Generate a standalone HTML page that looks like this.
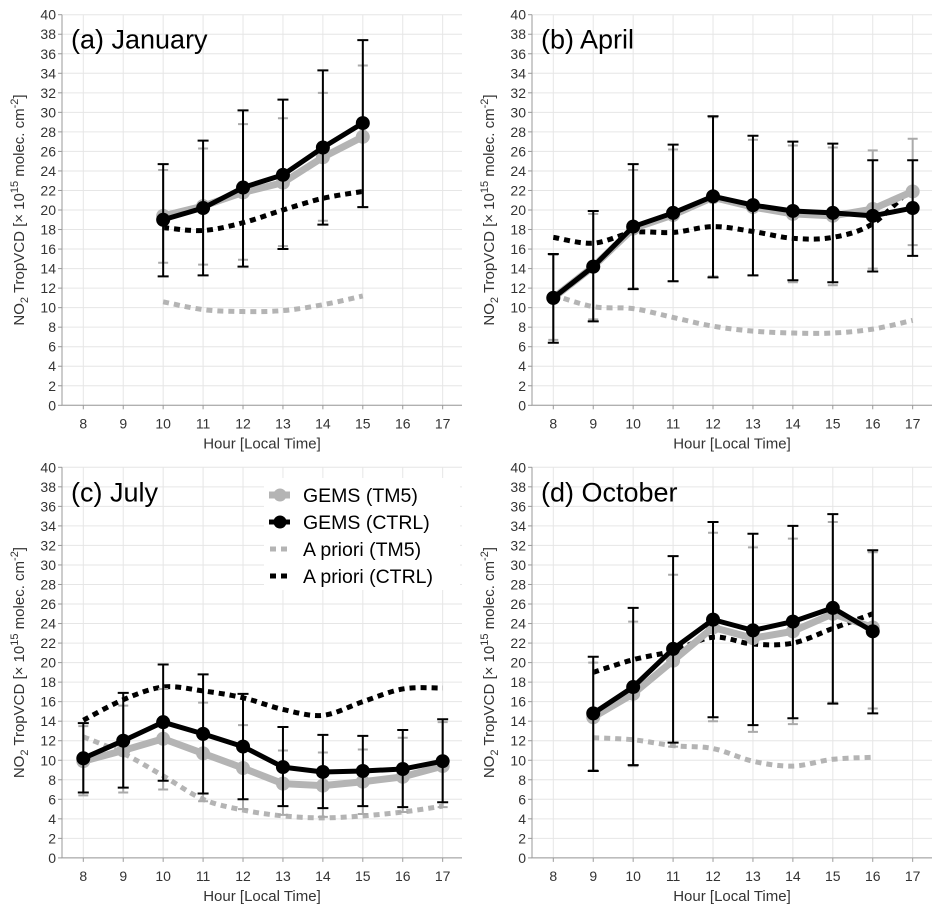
<!DOCTYPE html>
<html><head><meta charset="utf-8"><style>
html,body{margin:0;padding:0;background:#fff}
svg{display:block;font-family:"Liberation Sans",Arial,sans-serif}
</style></head><body>
<svg id="fig" width="942" height="914" viewBox="0 0 942 914" xmlns="http://www.w3.org/2000/svg"></svg>
<script>
const hours = [8,9,10,11,12,13,14,15,16,17];
const yTicks = [0,2,4,6,8,10,12,14,16,18,20,22,24,26,28,30,32,34,36,38,40];
const panelTitles = ["(a) January","(b) April","(c) July","(d) October"];
const panelNames = ["january","april","july","october"];
// January
const janHours = [10,11,12,13,14,15];
const janCtrl = [19.0,20.2,22.3,23.6,26.4,28.9];
const janCtrlLo = [13.2,13.3,14.2,16.0,18.5,20.3];
const janCtrlHi = [24.7,27.1,30.2,31.3,34.3,37.4];
const janTm5 = [19.4,20.4,21.8,22.8,25.4,27.5];
const janTm5Lo = [14.6,14.4,14.9,16.3,18.9,20.3];
const janTm5Hi = [24.1,26.3,28.8,29.4,32.0,34.8];
const janApCtrl = [18.2,17.9,18.7,20.0,21.2,21.9];
const janApTm5 = [10.6,9.8,9.6,9.7,10.3,11.2];
// April
const aprHours = [8,9,10,11,12,13,14,15,16,17];
const aprCtrl = [11.0,14.2,18.3,19.7,21.4,20.5,19.9,19.7,19.4,20.2];
const aprCtrlLo = [6.4,8.6,11.9,12.7,13.1,13.3,12.8,12.6,13.7,15.3];
const aprCtrlHi = [15.5,19.9,24.7,26.7,29.6,27.6,27.0,26.8,25.1,25.1];
const aprTm5 = [11.0,14.2,18.1,19.5,21.3,20.3,19.6,19.4,20.1,21.9];
const aprTm5Lo = [6.7,8.8,12.0,12.7,13.2,13.3,12.6,12.3,14.0,16.4];
const aprTm5Hi = [15.4,19.6,24.1,26.2,29.5,27.2,26.6,26.4,26.1,27.3];
const aprApCtrl = [17.2,16.6,17.7,17.7,18.3,17.8,17.1,17.2,18.6,22.4];
const aprApTm5 = [11.3,10.1,9.9,9.0,8.1,7.6,7.4,7.4,7.8,8.7];
// July
const julHours = [8,9,10,11,12,13,14,15,16,17];
const julCtrl = [10.2,12.0,13.9,12.7,11.4,9.3,8.8,8.9,9.1,9.9];
const julCtrlLo = [6.7,7.2,7.9,6.6,6.0,5.3,5.1,5.3,5.2,5.7];
const julCtrlHi = [13.8,16.9,19.8,18.8,16.8,13.4,12.6,12.5,13.1,14.2];
const julTm5 = [9.9,11.0,12.2,10.7,9.2,7.6,7.4,7.8,8.3,9.4];
const julTm5Lo = [6.4,6.7,7.0,5.8,5.0,4.4,4.2,4.5,4.7,5.2];
const julTm5Hi = [13.5,15.6,17.3,15.9,13.6,11.0,10.8,11.1,12.3,13.9];
const julApCtrl = [14.1,16.2,17.5,17.1,16.4,15.2,14.6,16.0,17.3,17.4];
const julApTm5 = [12.4,10.7,8.4,6.0,4.9,4.3,4.1,4.3,4.7,5.3];
// October
const octHours = [9,10,11,12,13,14,15,16];
const octCtrl = [14.8,17.5,21.4,24.4,23.3,24.2,25.6,23.2];
const octCtrlLo = [8.9,9.5,11.8,14.4,13.6,14.3,15.8,14.8];
const octCtrlHi = [20.6,25.6,30.9,34.4,33.2,34.0,35.2,31.5];
const octTm5 = [14.4,16.8,20.2,23.6,22.5,23.2,25.0,23.6];
const octTm5Lo = [9.0,9.4,11.4,14.0,12.9,13.7,15.9,15.3];
const octTm5Hi = [20.0,24.2,29.0,33.3,31.8,32.7,34.4,31.3];
const octApCtrl = [19.0,20.3,21.2,22.6,21.9,22.0,23.5,25.0];
const octApTm5 = [12.3,12.1,11.5,11.2,9.9,9.4,10.1,10.3];

const panels = [
 {x0:62,y0:14.7,d:[janHours,janCtrl,janCtrlLo,janCtrlHi,janTm5,janTm5Lo,janTm5Hi,janApCtrl,janApTm5]},
 {x0:532,y0:14.7,d:[aprHours,aprCtrl,aprCtrlLo,aprCtrlHi,aprTm5,aprTm5Lo,aprTm5Hi,aprApCtrl,aprApTm5]},
 {x0:62,y0:467.3,d:[julHours,julCtrl,julCtrlLo,julCtrlHi,julTm5,julTm5Lo,julTm5Hi,julApCtrl,julApTm5]},
 {x0:532,y0:467.3,d:[octHours,octCtrl,octCtrlLo,octCtrlHi,octTm5,octTm5Lo,octTm5Hi,octApCtrl,octApTm5]}
];
const NS="http://www.w3.org/2000/svg";
const fig=document.getElementById('fig');
function mk(tag,attrs,parent,text){const e=document.createElementNS(NS,tag);for(const k in attrs)e.setAttribute(k,attrs[k]);if(text!==undefined)e.textContent=text;(parent||fig).appendChild(e);return e;}
function smooth(pts){let d=`M${pts[0][0]},${pts[0][1]}`;for(let i=0;i<pts.length-1;i++){const p0=pts[Math.max(0,i-1)],p1=pts[i],p2=pts[i+1],p3=pts[Math.min(pts.length-1,i+2)];const c1=[p1[0]+(p2[0]-p0[0])/6,p1[1]+(p2[1]-p0[1])/6],c2=[p2[0]-(p3[0]-p1[0])/6,p2[1]-(p3[1]-p1[1])/6];d+=` C${c1[0]},${c1[1]} ${c2[0]},${c2[1]} ${p2[0]},${p2[1]}`;}return d;}
const W=400,H=390.6;
panels.forEach((p,pi)=>{
 const g=mk('g',{});
 
 
 const xS=h=>p.x0+21.3+(h-8)*39.93;
 const yS=v=>p.y0+H-v/40*H;
 yTicks.forEach(t=>{const l=mk('line',{x1:p.x0,x2:p.x0+W,y1:yS(t),y2:yS(t),stroke:'#e6e6e6','stroke-width':1},g);});
 hours.forEach(h=>{const l=mk('line',{x1:xS(h),x2:xS(h),y1:p.y0,y2:p.y0+H,stroke:'#e6e6e6','stroke-width':1},g);});
 const ax=mk('path',{d:`M${p.x0},${p.y0} V${p.y0+H} H${p.x0+W}`,fill:'none',stroke:'#999','stroke-width':1},g);
 
 yTicks.forEach(t=>{mk('line',{x1:p.x0-4,x2:p.x0,y1:yS(t),y2:yS(t),stroke:'#999'},g);
  const tx=mk('text',{x:p.x0-6,y:yS(t)+5,'text-anchor':'end','font-size':14,fill:'#333'},g,t);
  });
 hours.forEach(h=>{mk('line',{x1:xS(h),x2:xS(h),y1:p.y0+H,y2:p.y0+H+4,stroke:'#999'},g);
  const tx=mk('text',{x:xS(h),y:p.y0+H+23,'text-anchor':'middle','font-size':14,fill:'#333'},g,h);
  });
 const xt=mk('text',{x:p.x0+W/2,y:p.y0+H+43,'text-anchor':'middle','font-size':15,fill:'#333'},g,'Hour [Local Time]');
 
 const yt=mk('text',{transform:`translate(${p.x0-38},${p.y0+H/2}) rotate(-90)`,'text-anchor':'middle','font-size':15,fill:'#333'},g);
 
 yt.innerHTML='NO<tspan font-size="11" dy="4">2</tspan><tspan dy="-4"> TropVCD [× 10</tspan><tspan font-size="11" dy="-6">15</tspan><tspan dy="6"> molec. cm</tspan><tspan font-size="11" dy="-6">-2</tspan><tspan dy="6">]</tspan>';
 const ti=mk('text',{x:p.x0+9,y:p.y0+34,'font-size':27,fill:'#000'},g,panelTitles[pi]);
 
 const [hs,c,cl,ch,t,tl,th,ac,at]=p.d;
 const atp=mk('path',{d:smooth(hs.map((h,i)=>[xS(h),yS(at[i])])),fill:'none',stroke:'#b4b4b4','stroke-width':5,'stroke-dasharray':'6 5'},g);
 
 const acp=mk('path',{d:smooth(hs.map((h,i)=>[xS(h),yS(ac[i])])),fill:'none',stroke:'#000','stroke-width':5,'stroke-dasharray':'6 5'},g);
 
 hs.forEach((h,i)=>{const e=mk('path',{d:`M${xS(h)-5},${yS(tl[i])}H${xS(h)+5}M${xS(h)},${yS(tl[i])}V${yS(th[i])}M${xS(h)-5},${yS(th[i])}H${xS(h)+5}`,stroke:'#aaa','stroke-width':2,fill:'none'},g);
  });
 const tp=mk('polyline',{points:hs.map((h,i)=>xS(h)+','+yS(t[i])).join(' '),fill:'none',stroke:'#b4b4b4','stroke-width':7,'stroke-linejoin':'round'},g);
 
 hs.forEach((h,i)=>{const m=mk('circle',{cx:xS(h),cy:yS(t[i]),r:7,fill:'#b4b4b4'},g);});
 hs.forEach((h,i)=>{const e=mk('path',{d:`M${xS(h)-5.5},${yS(cl[i])}H${xS(h)+5.5}M${xS(h)},${yS(cl[i])}V${yS(ch[i])}M${xS(h)-5.5},${yS(ch[i])}H${xS(h)+5.5}`,stroke:'#000','stroke-width':2,fill:'none'},g);
  });
 const cp=mk('polyline',{points:hs.map((h,i)=>xS(h)+','+yS(c[i])).join(' '),fill:'none',stroke:'#000','stroke-width':5,'stroke-linejoin':'round'},g);
 
 hs.forEach((h,i)=>{const m=mk('circle',{cx:xS(h),cy:yS(c[i]),r:7,fill:'#000'},g);});
});
const lg=mk('g',{});


mk('rect',{x:264,y:478,width:196,height:112,fill:'#fff'},lg);
const legendLabels=['GEMS (TM5)','GEMS (CTRL)','A priori (TM5)','A priori (CTRL)'];
const legendColors=['#b4b4b4','#000','#b4b4b4','#000'];
legendLabels.forEach((lab,i)=>{
 const y=495+i*27;
 const e=mk('g',{},lg);
 
 
 if(i<2){mk('line',{x1:269,x2:290,y1:y,y2:y,stroke:legendColors[i],'stroke-width':i?5:7},e);mk('circle',{cx:280,cy:y,r:6.5,fill:legendColors[i]},e);}
 else{mk('line',{x1:270,x2:292,y1:y,y2:y,stroke:legendColors[i],'stroke-width':5,'stroke-dasharray':'6 5'},e);}
 mk('text',{x:303,y:y+7,'font-size':19.5,fill:'#000'},e,lab);
});
</script>
</body></html>
